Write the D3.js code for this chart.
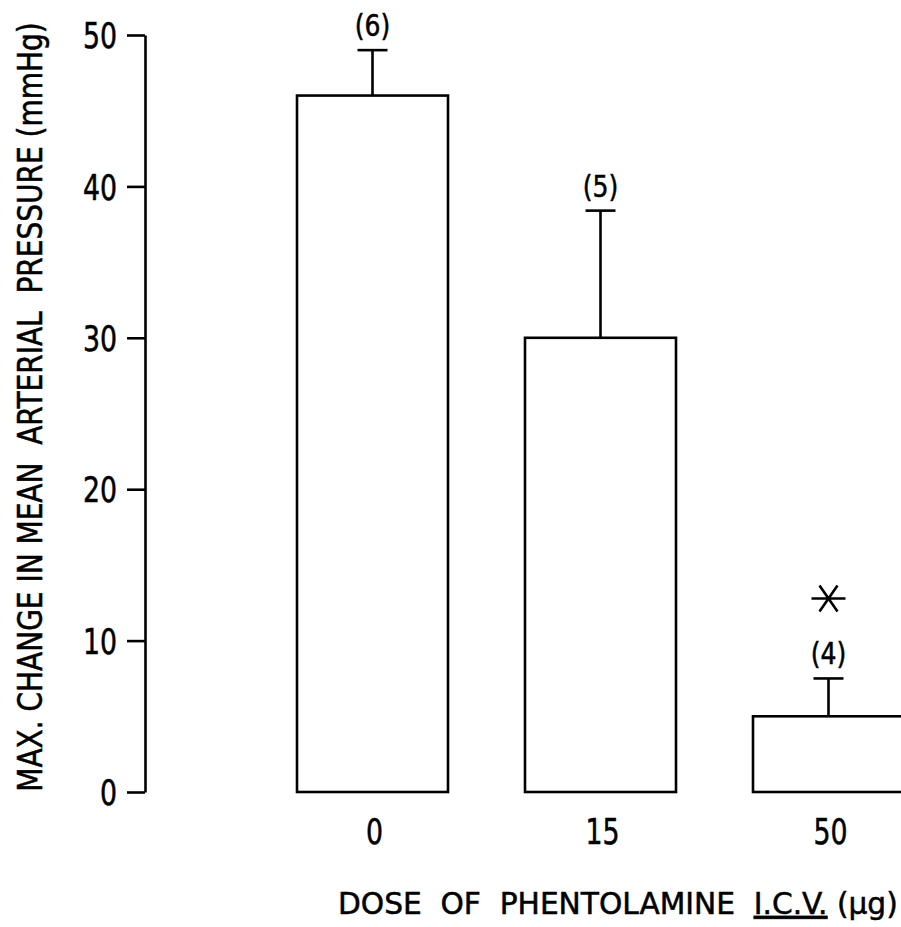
<!DOCTYPE html>
<html><head><meta charset="utf-8">
<script src="https://cdn.jsdelivr.net/npm/d3@7"></script>
<style>
html,body{margin:0;padding:0;background:#fff;}
text{font-family:"DejaVu Sans Condensed","DejaVu Sans",sans-serif;fill:#000;stroke:#000;stroke-width:0.5px;}
</style></head>
<body>
<svg id="chart" width="901" height="927"></svg>
<script>
const doses = ["0", "15", "50"];
const means = [46, 30, 5];
const errors = [3, 8.4, 2.5];
const nLabels = ["(6)", "(5)", "(4)"];
const significant = [false, false, true];
const yTicks = [0, 10, 20, 30, 40, 50];
const yTitle = "MAX. CHANGE IN MEAN  ARTERIAL  PRESSURE (mmHg)";
const xTitleParts = ["DOSE  OF  PHENTOLAMINE  ", "I.C.V.", " (µg)"];

const svg = d3.select("#chart");
const y = d3.scaleLinear().domain([0, 50]).range([792, 35]);
const x = d3.scaleBand().domain(doses).range([183, 1018]).paddingInner(0.3377).paddingOuter(0.5);

const stroke = 2.6;
const sx = 0.85;

// Y axis
const yAxis = d3.axisLeft(y).tickValues(yTicks).tickSize(18).tickPadding(9).tickSizeOuter(0);
const gy = svg.append("g").attr("transform", "translate(145,0)").call(yAxis);
gy.select(".domain").attr("stroke", "#000").attr("stroke-width", stroke);
gy.selectAll(".tick line").attr("stroke", "#000").attr("stroke-width", stroke);
gy.selectAll(".tick text").attr("font-size", 35).attr("fill", "#000")
  .attr("dy", "0.36em").attr("x", -28 / sx).attr("transform", `scale(${sx},1)`);

// Bars
const bars = svg.append("g");
doses.forEach((d, i) => {
  bars.append("rect")
    .attr("x", x(d)).attr("y", y(means[i]))
    .attr("width", x.bandwidth()).attr("height", y(0) - y(means[i]))
    .attr("fill", "none").attr("stroke", "#000").attr("stroke-width", stroke);
  const cx = x(d) + x.bandwidth() / 2;
  const top = y(means[i] + errors[i]);
  bars.append("line").attr("x1", cx).attr("x2", cx)
    .attr("y1", y(means[i])).attr("y2", top)
    .attr("stroke", "#000").attr("stroke-width", stroke);
  bars.append("line").attr("x1", cx - 15).attr("x2", cx + 15)
    .attr("y1", top).attr("y2", top)
    .attr("stroke", "#000").attr("stroke-width", stroke);
  bars.append("text").attr("transform", `translate(${cx},${top - 14}) scale(0.9,1)`)
    .attr("text-anchor", "middle").attr("font-size", 31).text(nLabels[i]);
  if (significant[i]) {
    const sy = top - 80;
    bars.append("path")
      .attr("d", `M${cx-17},${sy}H${cx+17}M${cx-9},${sy-13}L${cx+9},${sy+13}M${cx-9},${sy+13}L${cx+9},${sy-13}`)
      .attr("stroke", "#000").attr("stroke-width", stroke).attr("fill", "none");
  }
  // x category label
  svg.append("text").attr("transform", `translate(${cx + 2},844) scale(${sx},1)`)
    .attr("text-anchor", "middle").attr("font-size", 35).text(d);
});

// Y title
const yt = svg.append("text")
  .attr("text-anchor", "middle").attr("font-size", 34).style("white-space", "pre")
  .text(yTitle);
const yLen = yt.node().getComputedTextLength();
yt.attr("transform", `translate(42,407) rotate(-90) scale(${770 / yLen},1)`);

// X title
const xt = svg.append("text").attr("font-size", 30).style("white-space", "pre");
xt.append("tspan").text(xTitleParts[0]);
xt.append("tspan").style("text-decoration", "underline").text(xTitleParts[1]);
xt.append("tspan").text(xTitleParts[2]);
const xLen = xt.node().getComputedTextLength();
xt.attr("transform", `translate(338,914) scale(${560 / xLen},1)`);
</script>
</body></html>
